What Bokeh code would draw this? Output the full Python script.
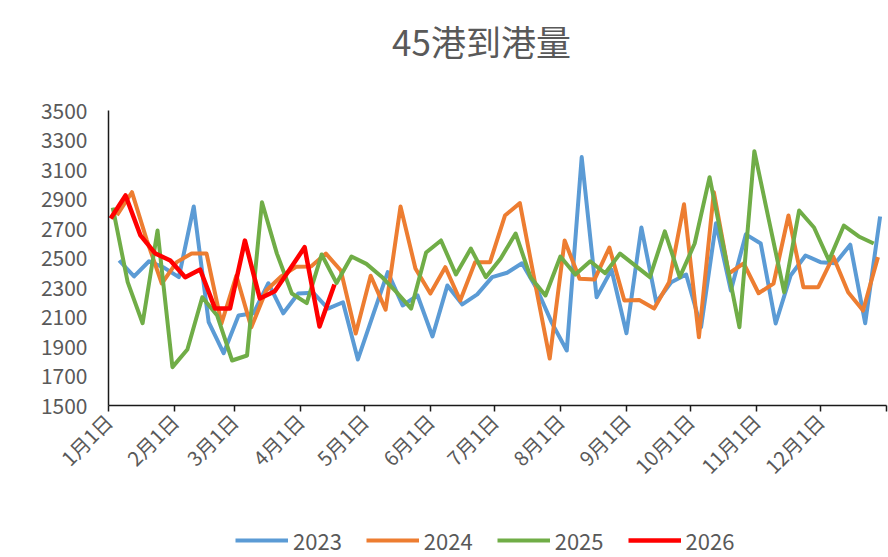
import math
import pandas as pd
from bokeh.plotting import figure
from bokeh.layouts import column
from bokeh.models import Range1d, FixedTicker, Legend, LegendItem, ColumnDataSource, Label
from bokeh.embed import file_html
from bokeh.resources import INLINE

title_text = "45港到港量"
series_names = ["2023", "2024", "2025", "2026"]
start_dates = ["2023-01-06", "2024-01-05", "2025-01-03", "2026-01-02"]

v2023 = [2483, 2375, 2478, 2435, 2370, 2849, 2065, 1855, 2110, 2125,
         2329, 2125, 2259, 2265, 2157, 2200, 1812, 2110, 2404, 2178,
         2246, 1968, 2314, 2185, 2253, 2370, 2400, 2464, 2290, 2060,
         1873, 3184, 2234, 2420, 1990, 2707, 2200, 2336, 2388, 2031,
         2736, 2280, 2660, 2598, 2056, 2381, 2517, 2472, 2465, 2590,
         2058, 2781]
v2024 = [2790, 2946, 2620, 2327, 2472, 2530, 2530, 2056, 2380, 2030,
         2280, 2375, 2440, 2442, 2530, 2415, 1988, 2380, 2150, 2849,
         2429, 2259, 2438, 2212, 2472, 2472, 2788, 2872, 2340, 1818,
         2618, 2360, 2354, 2571, 2212, 2215, 2157, 2336, 2864, 1963,
         2946, 2395, 2463, 2261, 2327, 2788, 2302, 2302, 2510, 2268,
         2144, 2506]
v2025 = [2842, 2336, 2058, 2686, 1760, 1880, 2234, 2110, 1805, 1839,
         2878, 2530, 2259, 2194, 2524, 2330, 2510, 2460, 2375, 2270,
         2157, 2537, 2619, 2388, 2564, 2370, 2497, 2666, 2370, 2246,
         2510, 2388, 2478, 2397, 2530, 2450, 2370, 2681, 2370, 2598,
         3048, 2540, 2031, 3224, 2745, 2268, 2822, 2707, 2483, 2720,
         2646, 2598]
v2026 = [2768, 2924, 2653, 2530, 2483, 2370, 2422, 2157, 2157, 2618,
         2225, 2275, 2422, 2573, 2036, 2320]

series_values = [v2023, v2024, v2025, v2026]
colors = ["#5B9BD5", "#ED7D31", "#70AD47", "#FF0000"]
widths = [4.0, 4.0, 4.0, 4.5]

month_ticks = [0, 31, 59, 90, 120, 151, 181, 212, 243, 273, 304, 334, 365]
month_labels = ["1月1日", "2月1日", "3月1日", "4月1日", "5月1日", "6月1日",
                "7月1日", "8月1日", "9月1日", "10月1日", "11月1日", "12月1日", ""]
y_ticks = [1500, 1700, 1900, 2100, 2300, 2500, 2700, 2900, 3100, 3300, 3500]

FONT = "Noto Sans CJK SC"
TXT = "#595959"
W = 888
FL, FR = 108, 886          # frame left/right in page pixels (shared by the column)
TH, LH = 80, 40
MH = 557 - TH - LH


def bare(fig):
    fig.outline_line_color = None
    fig.xgrid.visible = False
    fig.ygrid.visible = False
    fig.title.visible = False
    fig.background_fill_color = "white"
    fig.border_fill_color = "white"


# ---- title strip ----
pt = figure(width=W, height=TH, output_backend="svg", toolbar_location=None,
            x_range=Range1d(FL, FR), y_range=Range1d(0, TH),
            min_border_left=FL, min_border_right=W - FR, min_border_top=0, min_border_bottom=0,
            x_axis_location=None, y_axis_location=None)
bare(pt)
pt.add_layout(Label(x=481, y=TH - 40, text=title_text, text_align="center",
                    text_baseline="middle", text_font=FONT, text_font_size="35px",
                    text_color=TXT))

# ---- main chart ----
p = figure(width=W, height=MH, output_backend="svg", toolbar_location=None,
           x_range=Range1d(0, 365), y_range=Range1d(1500, 3500),
           min_border_left=FL, min_border_right=W - FR, min_border_top=110 - TH,
           min_border_bottom=MH - (405 - TH))
bare(p)

p.yaxis.ticker = FixedTicker(ticks=y_ticks)
p.yaxis.major_tick_line_color = None
p.yaxis.minor_tick_line_color = None
p.yaxis.major_tick_out = 0
p.yaxis.major_tick_in = 0
p.yaxis.major_label_standoff = 21
p.yaxis.axis_line_color = "#1a1a1a"
p.yaxis.axis_line_width = 1.5
p.yaxis.major_label_text_font = FONT
p.yaxis.major_label_text_font_size = "21px"
p.yaxis.major_label_text_color = TXT

p.xaxis.ticker = FixedTicker(ticks=month_ticks)
p.xaxis.major_label_overrides = {t: l for t, l in zip(month_ticks, month_labels)}
p.xaxis.major_label_orientation = math.pi / 4
p.xaxis.major_tick_out = 6
p.xaxis.major_tick_in = 0
p.xaxis.major_tick_line_color = "#1a1a1a"
p.xaxis.major_tick_line_width = 1.5
p.xaxis.minor_tick_line_color = None
p.xaxis.axis_line_color = "#1a1a1a"
p.xaxis.axis_line_width = 1.5
p.xaxis.major_label_text_font = FONT
p.xaxis.major_label_text_font_size = "20px"
p.xaxis.major_label_text_color = TXT
p.xaxis.major_label_standoff = 6

sources = []
for name, start, vals, col, w in zip(series_names, start_dates, series_values, colors, widths):
    dates = pd.date_range(start=start, periods=len(vals), freq="7D")
    day = [(d - pd.Timestamp(year=d.year, month=1, day=1)).days for d in dates]
    src = ColumnDataSource(dict(x=day, y=vals))
    sources.append(src)
    p.line("x", "y", source=src, line_color=col, line_width=w, line_join="round")

# ---- legend strip (same series; their data lie outside this strip's ranges) ----
pl = figure(width=W, height=LH, output_backend="svg", toolbar_location=None,
            x_range=Range1d(FL, FR), y_range=Range1d(0, LH),
            min_border_left=FL, min_border_right=W - FR, min_border_top=0, min_border_bottom=0,
            x_axis_location=None, y_axis_location=None)
bare(pl)
items = []
for name, src, col, w in zip(series_names, sources, colors, widths):
    r = pl.line("x", "y", source=src, line_color=col, line_width=w)
    items.append(LegendItem(label=name, renderers=[r]))
legend = Legend(items=items, orientation="horizontal", location=(235 - FL, 1),
                glyph_width=53, glyph_height=20, label_standoff=5, spacing=24,
                padding=0, margin=0, border_line_color=None, background_fill_alpha=0,
                label_text_font=FONT, label_text_font_size="22px", label_text_color=TXT)
pl.add_layout(legend)

layout = column(pt, p, pl, spacing=0)
open("out.html", "w").write(file_html(layout, INLINE))
